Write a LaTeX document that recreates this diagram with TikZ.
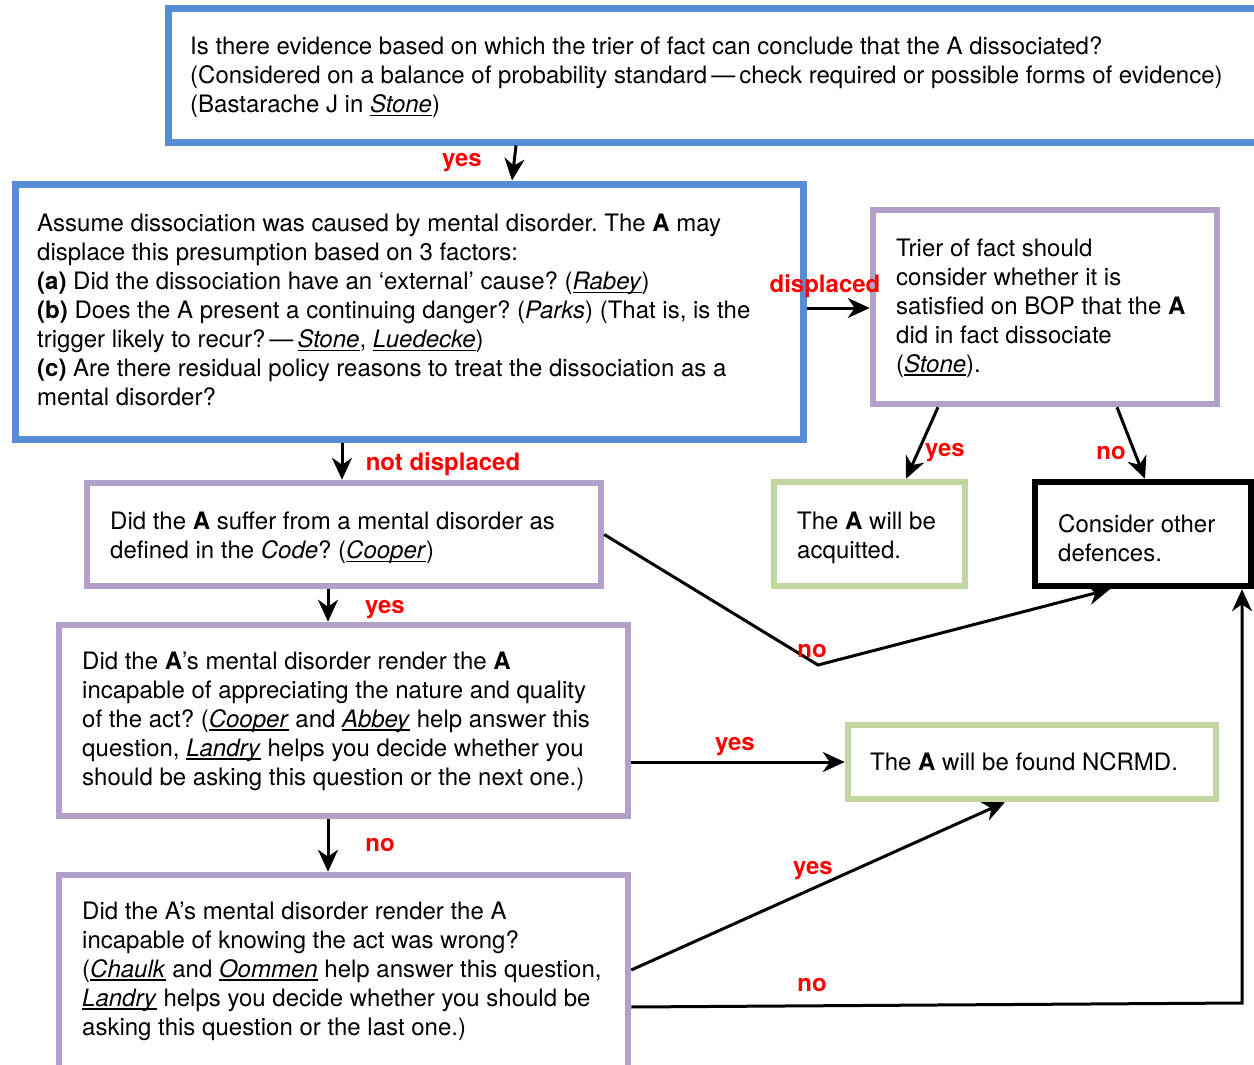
\documentclass[tikz,border=0pt]{standalone}
\usepackage{fontspec}
\setmainfont{TeX Gyre Heros}
\usetikzlibrary{arrows.meta}
\definecolor{boxblue}{RGB}{86,141,212}
\definecolor{boxpurple}{RGB}{177,160,199}
\definecolor{boxgreen}{RGB}{196,214,160}
\definecolor{lblred}{RGB}{255,0,0}
\frenchspacing
\newsavebox{\cnbox}
\newcommand{\casename}[1]{\sbox{\cnbox}{\textit{#1}}\rlap{\rule[-3.5pt]{\wd\cnbox}{1.3pt}}\usebox{\cnbox}}
\tikzset{
  boxbase/.style={draw, inner sep=0pt, rectangle},
  bluebox/.style={boxbase, draw=boxblue, line width=7pt},
  purplebox/.style={boxbase, draw=boxpurple, line width=6.5pt},
  greenbox/.style={boxbase, draw=boxgreen, line width=6.5pt},
  blackbox/.style={boxbase, draw=black, line width=6.5pt},
  boxtext/.style={anchor=west, align=left, inner sep=0pt, font=\fontsize{24}{29}\selectfont},
  lbl/.style={text=lblred, inner sep=0pt, text height=12.5pt, text depth=0pt, font=\fontsize{24}{29}\selectfont\bfseries},
  conn/.style={line width=3pt, -{Stealth[length=22pt,width=20pt,inset=7pt]}}
}
\begin{document}
\begin{tikzpicture}[x=1pt,y=-1pt]
\useasboundingbox (0,0) rectangle (1254,1065);
\clip (0,0) rectangle (1254,1065);
\fill[white] (0,0) rectangle (1254,1065);

% boxes
\node[bluebox, minimum width=1090pt, minimum height=133pt] (b1) at (713,75.5) {};
\node[bluebox, minimum width=788pt, minimum height=255pt] (b2) at (409,311.5) {};
\node[purplebox, minimum width=344pt, minimum height=194pt] (b3) at (1045,307) {};
\node[greenbox, minimum width=191pt, minimum height=104pt] (b4) at (869.5,534) {};
\node[blackbox, minimum width=216pt, minimum height=104pt] (b5) at (1143,534) {};
\node[purplebox, minimum width=514pt, minimum height=103pt] (b6) at (344,534.5) {};
\node[purplebox, minimum width=569pt, minimum height=191pt] (b7) at (343.5,720.5) {};
\node[greenbox, minimum width=368pt, minimum height=74pt] (b8) at (1032,762) {};
\node[purplebox, minimum width=569pt, minimum height=195pt] (b9) at (343.5,972.5) {};

% texts
\node[boxtext] (t1) at (190,77) {Is there evidence based on which the trier of fact can conclude that the A dissociated?\\
(Considered on a balance of probability standard\,—\,check required or possible forms of evidence)\\
(Bastarache J in \casename{Stone})};
\node[boxtext] (t2) at (37,310) {Assume dissociation was caused by mental disorder. The \textbf{A} may\\
displace this presumption based on 3 factors:\\
\textbf{(a)} Did the dissociation have an ‘external’ cause? (\casename{Rabey})\\
\textbf{(b)} Does the A present a continuing danger? (\textit{Parks}) (That is, is the\\
trigger likely to recur?\,—\,\casename{Stone}, \casename{Luedecke})\\
\textbf{(c)} Are there residual policy reasons to treat the dissociation as a\\
mental disorder?};
\node[boxtext] (t3) at (896,308) {Trier of fact should\\
consider whether it is\\
satisfied on BOP that the \textbf{A}\\
did in fact dissociate\\
(\casename{Stone}).};
\node[boxtext] (t4) at (797,538) {The \textbf{A} will be\\ acquitted.};
\node[boxtext] (t5) at (1058,538) {Consider other\\ defences.};
\node[boxtext] (t6) at (110,538) {Did the \textbf{A} suffer from a mental disorder as\\
defined in the \textit{Code}? (\casename{Cooper})};
\node[boxtext] (t7) at (82,721) {Did the \textbf{A}’s mental disorder render the \textbf{A}\\
incapable of appreciating the nature and quality\\
of the act? (\casename{Cooper} and \casename{Abbey} help answer this\\
question, \casename{Landry} helps you decide whether you\\
should be asking this question or the next one.)};
\node[boxtext] (t8) at (870,762) {The \textbf{A} will be found NCRMD.};
\node[boxtext] (t9) at (82,971) {Did the A’s mental disorder render the A\\
incapable of knowing the act was wrong?\\
(\casename{Chaulk} and \casename{Oommen} help answer this question,\\
\casename{Landry} helps you decide whether you should be\\
asking this question or the last one.)};

% helper coordinates
\coordinate (k1) at (818,665);
\coordinate (k2) at (1242,1003);

% connectors
\draw[conn] ([xshift=-197pt]b1.south) -- ([xshift=103pt]b2.north);
\draw[conn] ([yshift=3.5pt]b2.east) -- ([yshift=3.5pt]b2.east -| b3.west);
\draw[conn] ([xshift=-67pt]b2.south) -- ([xshift=-67pt]b2.south |- b6.north);
\draw[conn] ([xshift=-107pt]b3.south) -- ([xshift=36.5pt]b4.north);
\draw[conn] ([xshift=72pt]b3.south) -- ([xshift=2pt]b5.north);
\draw[conn] (b6.east) -- (k1) -- ([xshift=-33pt]b5.south);
\draw[conn] ([xshift=-16pt]b6.south) -- ([xshift=-16pt]b6.south |- b7.north);
\draw[conn] (b7.east |- b8.west) -- (b8.west);
\draw[conn] ([xshift=-15.5pt]b7.south) -- ([xshift=-15.5pt]b7.south |- b9.north);
\draw[conn] ([yshift=2.5pt]b9.east) -- ([xshift=-27pt]b8.south);
\draw[conn] ([yshift=-34.5pt]b9.east) -- (k2) -- (k2 |- b5.south);

% labels
\node[lbl] (l1) at (462,160) {yes};
\node[lbl] (l2) at (825,286) {displaced};
\node[lbl] (l3) at (443,464) {not displaced};
\node[lbl] (l4) at (945,450) {yes};
\node[lbl] (l5) at (1111,453) {no};
\node[lbl] (l6) at (812,651) {no};
\node[lbl] (l7) at (385,607) {yes};
\node[lbl] (l8) at (735,744) {yes};
\node[lbl] (l9) at (380,845) {no};
\node[lbl] (l10) at (813,868) {yes};
\node[lbl] (l11) at (812,985) {no};
\end{tikzpicture}
\end{document}
